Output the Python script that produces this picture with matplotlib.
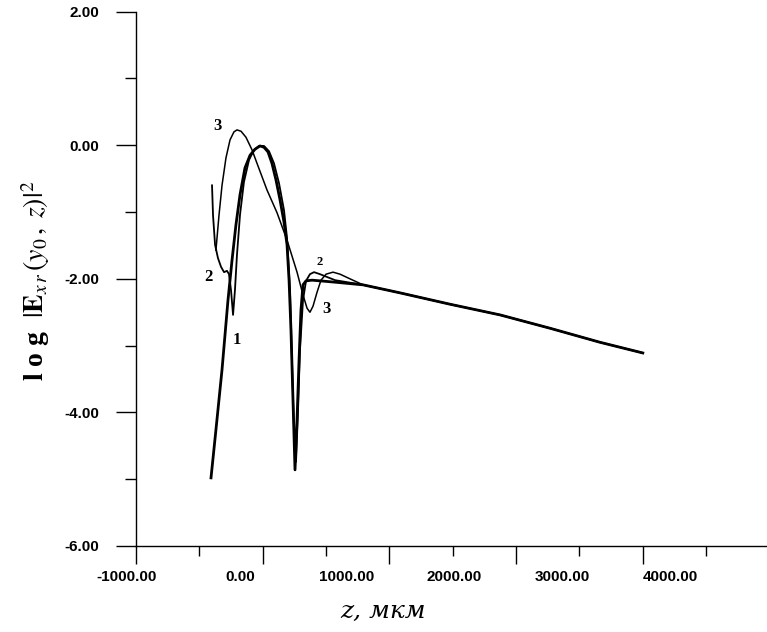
import numpy as np
import matplotlib
matplotlib.use("Agg")
from matplotlib import pyplot as plt
from matplotlib.ticker import MultipleLocator, NullFormatter

plt.rcParams["mathtext.fontset"] = "stix"

# curve 1 (thick)
z1 = [-408, -369, -321, -274, -242, -211, -179, -140, -100, -61, -21, 10, 42, 73, 105,
      137, 168, 192, 208, 223, 239, 255, 271, 287, 302, 318, 342, 389, 452, 571, 792]
y1 = [-4.98, -4.26, -3.36, -2.32, -1.72, -1.19, -0.74, -0.34, -0.15, -0.06, -0.01, -0.03,
      -0.10, -0.27, -0.52, -0.82, -1.15, -1.49, -2.02, -2.76, -3.81, -4.86, -4.11, -3.21,
      -2.47, -2.09, -2.03, -2.02, -2.03, -2.05, -2.09]

# curve 2
z2 = [-400, -392, -376, -353, -329, -305, -282, -266, -250, -234, -219, -203, -179, -148,
      -108, -69, -29, 10, 50, 89, 129, 168, 192, 216, 231, 247, 263, 279, 294, 318, 342,
      373, 405, 452, 571, 792]
y2 = [-0.60, -1.05, -1.49, -1.69, -1.82, -1.90, -1.88, -1.93, -2.17, -2.54, -2.17, -1.64,
      -1.04, -0.55, -0.22, -0.07, -0.01, -0.01, -0.09, -0.27, -0.57, -0.97, -1.39, -2.17,
      -3.21, -4.26, -4.74, -3.96, -3.07, -2.32, -2.03, -1.93, -1.90, -1.93, -2.02, -2.09]

# curve 3
z3 = [-369, -345, -321, -290, -258, -227, -203, -171, -132, -84, -45, 34, 113, 192, 271,
      318, 350, 373, 397, 429, 460, 500, 555, 610, 689, 792]
y3 = [-1.57, -1.05, -0.60, -0.19, 0.08, 0.20, 0.23, 0.21, 0.12, -0.07, -0.27, -0.67, -1.01,
      -1.42, -1.90, -2.24, -2.44, -2.50, -2.41, -2.20, -2.02, -1.93, -1.90, -1.93, -2.00,
      -2.09]

# common tail
z_tail = [792, 1084, 1478, 1873, 2268, 2662, 3000]
y_tail = [-2.09, -2.21, -2.38, -2.54, -2.74, -2.95, -3.11]

# x tick texts are printed off the tick marks in the original
xtick_text = ["-1000.00", "0.00", "1000.00", "2000.00", "3000.00", "4000.00"]
xtick_text_pos = [-1071, -179, 665, 1510, 2362, 3215]

fig = plt.figure(figsize=(7.67, 6.32), dpi=100)
ax = fig.add_axes([0.1773, 0.1361, 0.8227, 0.8454])

ax.plot(z1 + z_tail, y1 + y_tail, color="black", lw=2.0)
ax.plot(z2 + z_tail, y2 + y_tail, color="black", lw=1.3)
ax.plot(z3 + z_tail, y3 + y_tail, color="black", lw=1.1)

lab = dict(family="Liberation Serif", weight="bold", ha="center", va="center")
ax.text(-353, 0.29, "3", fontsize=12, **lab)
ax.text(-432, -1.97, "2", fontsize=12, **lab)
ax.text(-203, -2.91, "1", fontsize=12, **lab)
ax.text(452, -1.75, "2", fontsize=9, **lab)
ax.text(500, -2.45, "3", fontsize=12, **lab)

ax.set_xlim(-1000, 3980)
ax.set_ylim(-6, 2)

for s in ["top", "right"]:
    ax.spines[s].set_visible(False)
ax.spines["left"].set_linewidth(1.0)
ax.spines["bottom"].set_linewidth(1.0)

ax.xaxis.set_major_locator(MultipleLocator(1000))
ax.xaxis.set_minor_locator(MultipleLocator(500))
ax.xaxis.set_major_formatter(NullFormatter())
ax.tick_params(axis="x", which="major", direction="out", length=13, width=1)
ax.tick_params(axis="x", which="minor", direction="out", length=7, width=1)

ax.yaxis.set_major_locator(MultipleLocator(2))
ax.yaxis.set_minor_locator(MultipleLocator(1))
ax.yaxis.set_major_formatter(lambda v, p: "%.2f" % v)
ax.tick_params(axis="y", which="major", direction="out", length=14.5, width=1, pad=12)
ax.tick_params(axis="y", which="minor", direction="out", length=8, width=1)
for t in ax.get_yticklabels():
    t.set_fontfamily("Liberation Sans")
    t.set_fontweight("bold")
    t.set_fontsize(11)

for txt, pos in zip(xtick_text, xtick_text_pos):
    ax.annotate(txt, xy=(pos, 0), xycoords=("data", "axes fraction"),
                xytext=(0, -22.5), textcoords="offset points", ha="center", va="center",
                family="Liberation Sans", weight="bold", fontsize=11,
                annotation_clip=False)

fig.text(0.499, 0.032, "z, мкм", fontsize=18, family="DejaVu Serif", style="italic",
         ha="center", va="center")
fig.text(0.047, 0.555, r"l o g  $|\mathbf{E}_{x\,r}\,(y_0\,,\; z)|^2$", fontsize=20,
         family="Liberation Serif", weight="bold", rotation=90, ha="center", va="center")

fig.savefig("out.png", dpi=100)
